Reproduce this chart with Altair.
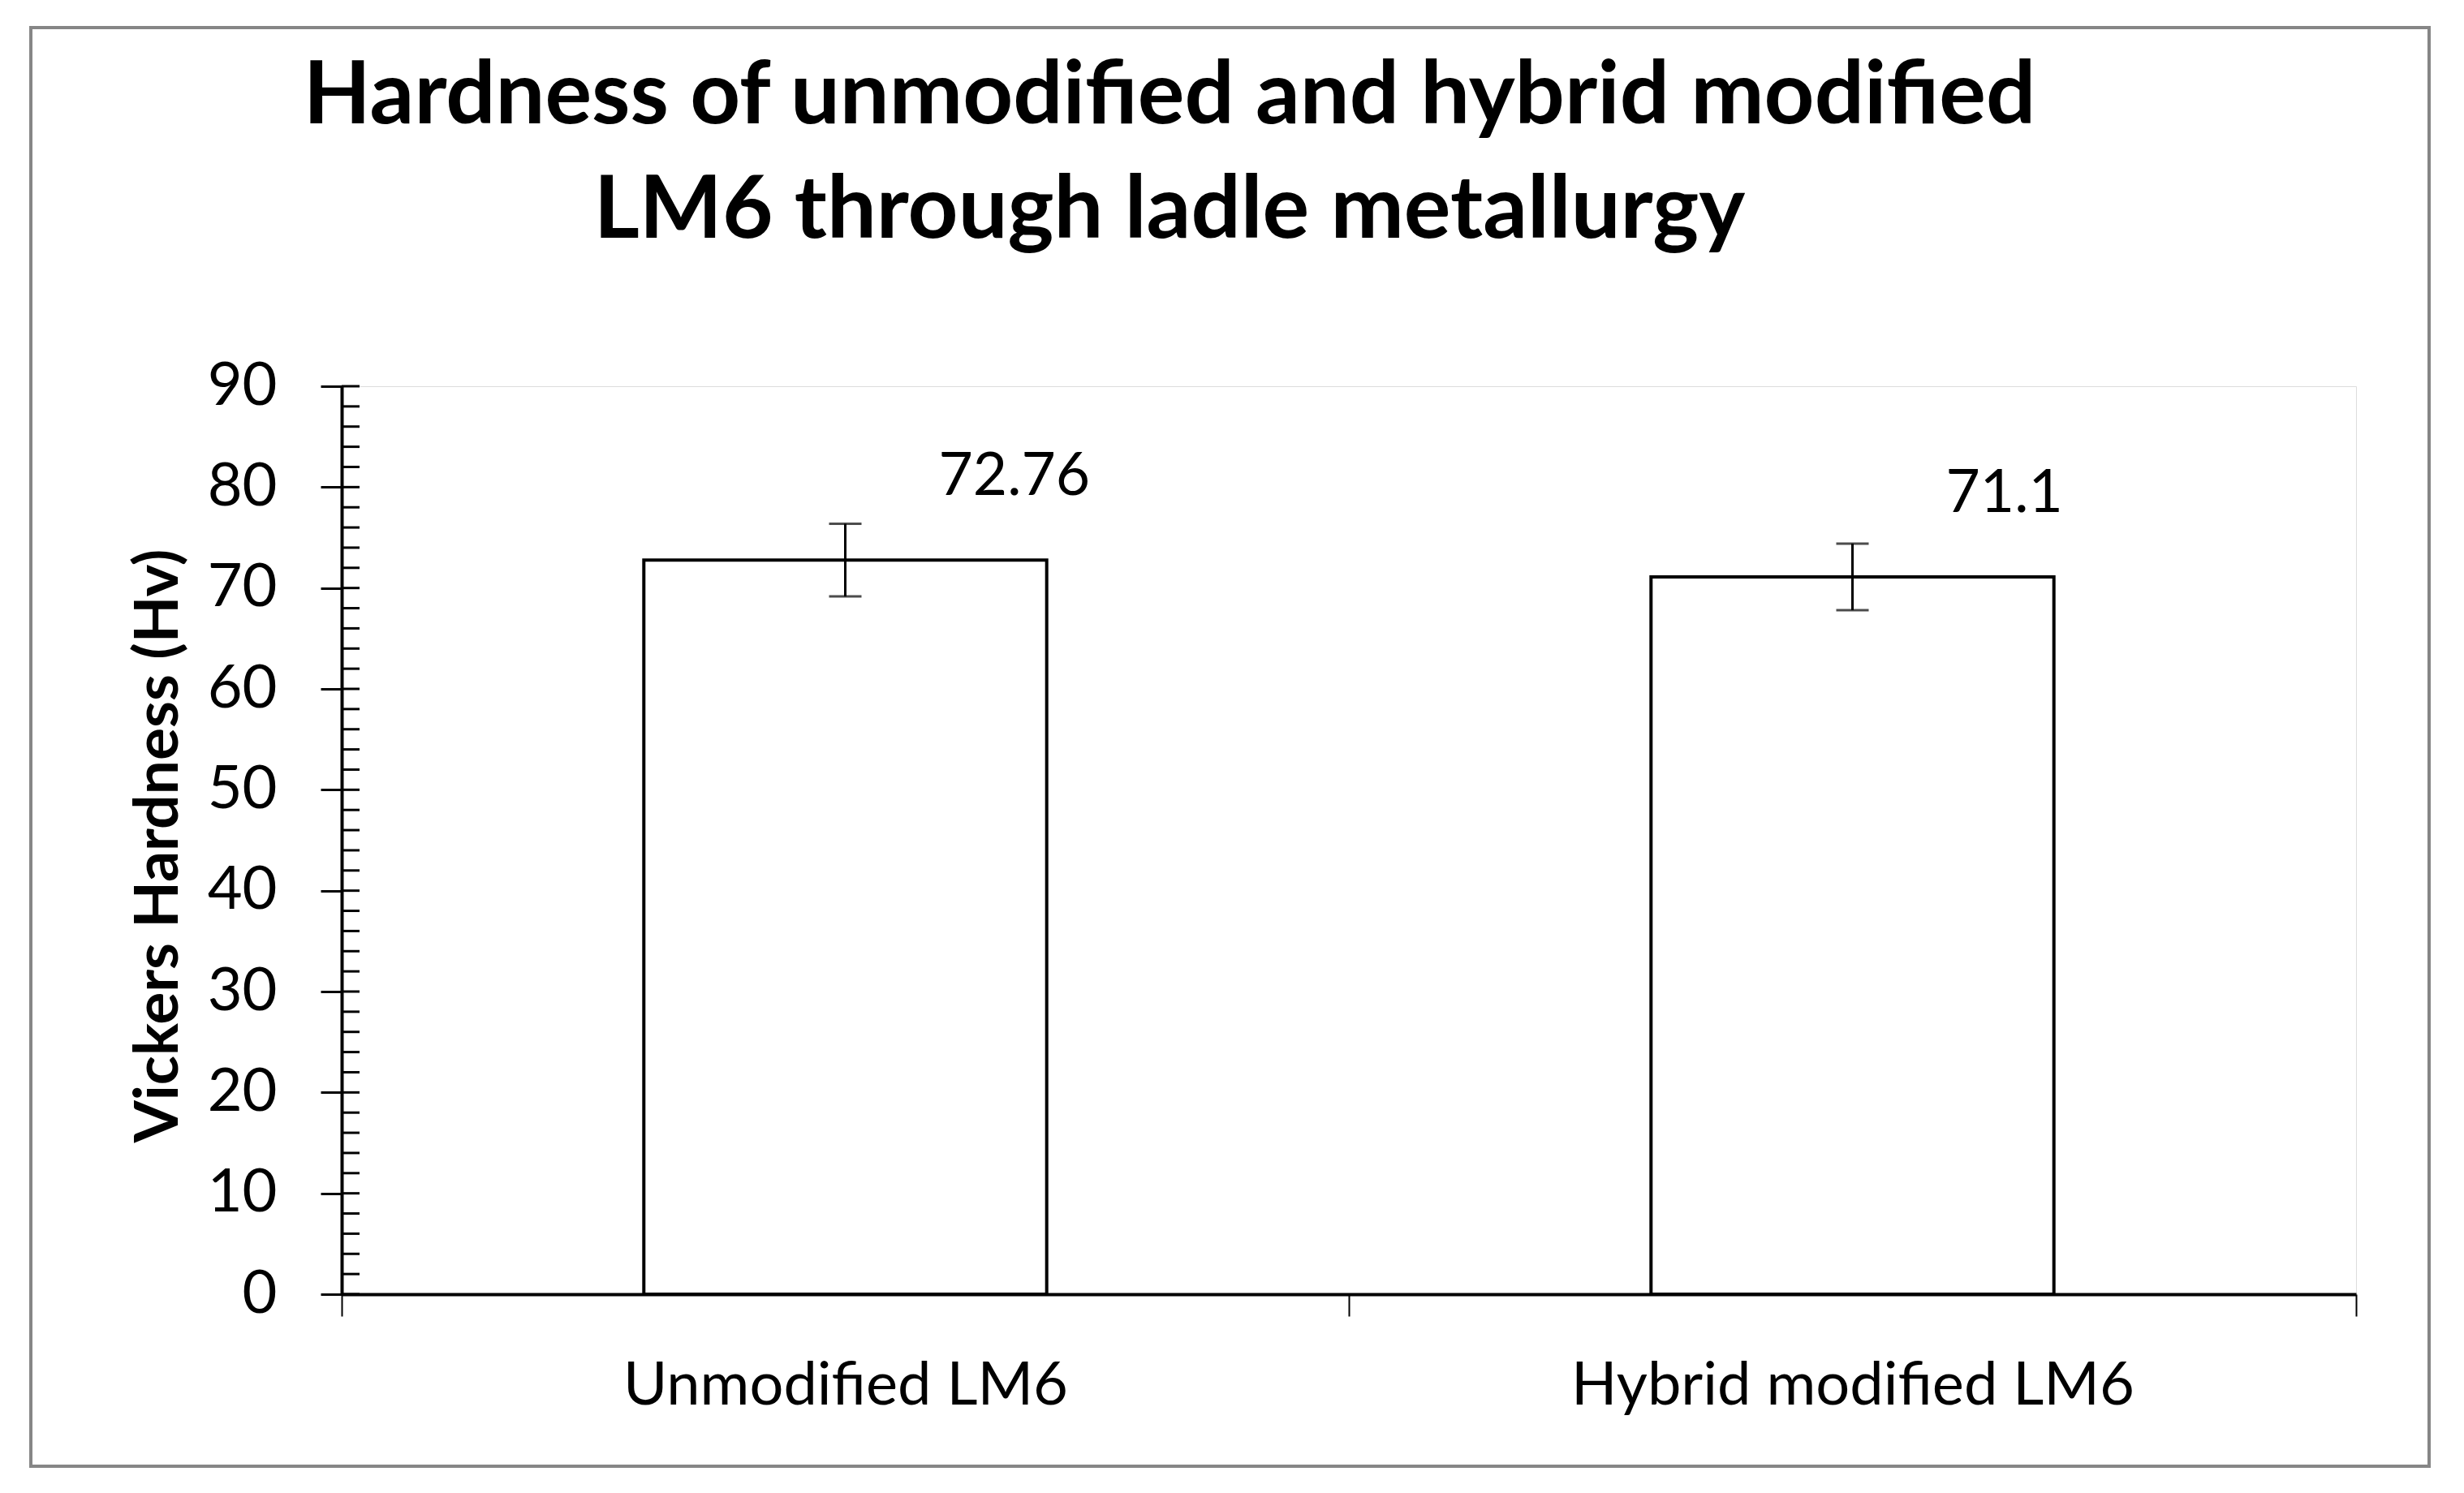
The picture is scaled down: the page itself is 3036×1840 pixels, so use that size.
import altair as alt
import pandas as pd

categories = ["Unmodified LM6", "Hybrid modified LM6"]
values = [72.76, 71.1]
errors = [3.6, 3.3]
labels = ["72.76", "71.1"]
y_ticks = [0, 10, 20, 30, 40, 50, 60, 70, 80, 90]
minor_ticks = list(range(0, 91, 2))
title_lines = ["Hardness of unmodified and hybrid modified", "LM6 through ladle metallurgy"]

df = pd.DataFrame({"cat": categories, "val": values, "err": errors, "lab": labels})
df["lo"] = df["val"] - df["err"]
df["hi"] = df["val"] + df["err"]
minor_df = pd.DataFrame({"t": minor_ticks})

FONT = "Lato"
W, H = 2482, 1119

xenc = alt.X("cat:N", sort=categories,
             scale=alt.Scale(paddingInner=0, paddingOuter=0),
             axis=alt.Axis(title=None, labelAngle=0, tickBand="extent", tickSize=27,
                           tickWidth=2, tickColor="black", domainColor="black",
                           domainWidth=4, labelFontSize=74, labelFont=FONT,
                           labelColor="black", labelBaseline="alphabetic",
                           labelPadding=108, labelLimit=0))
yscale = alt.Scale(domain=[0, 90], nice=False)

base = alt.Chart(df)

bars = base.mark_bar(fill="white", stroke="black", strokeWidth=4,
                     width=alt.RelativeBandSize(0.4)).encode(
    x=xenc,
    y=alt.Y("val:Q", scale=yscale,
            axis=alt.Axis(values=y_ticks, title="Vickers Hardness (Hv)", grid=False,
                          tickSize=26, tickWidth=3, tickColor="black",
                          domainColor="black", domainWidth=4,
                          labelFontSize=74, labelFont=FONT, labelColor="black",
                          labelPadding=54, titleFont=FONT, titleFontSize=75,
                          titleFontWeight="bold", titleColor="black",
                          titleX=-203, titleY=566, titleAngle=-90,
                          titleBaseline="alphabetic", titleLimit=0)),
)

rule = base.mark_rule(color="black", strokeWidth=3).encode(
    x=alt.X("cat:N", sort=categories), y="lo:Q", y2="hi:Q")
cap_lo = base.mark_tick(color="black", size=40, thickness=3, orient="horizontal").encode(
    x=alt.X("cat:N", sort=categories), y="lo:Q")
cap_hi = base.mark_tick(color="black", size=40, thickness=3, orient="horizontal").encode(
    x=alt.X("cat:N", sort=categories), y="hi:Q")

text = base.mark_text(align="left", baseline="alphabetic", dx=115, dy=-80,
                      fontSize=73, font=FONT, color="black").encode(
    x=alt.X("cat:N", sort=categories), y="val:Q", text="lab:N")

minor = alt.Chart(minor_df).mark_rule(color="black", strokeWidth=3).encode(
    y=alt.Y("t:Q", scale=yscale), x=alt.value(0), x2=alt.value(22))

frame = alt.Chart(pd.DataFrame({"a": [0]})).mark_rect(
    filled=False, stroke="#868686", strokeWidth=4).encode(
    x=alt.value(-383), x2=alt.value(2572), y=alt.value(-442), y2=alt.value(1331))

title1 = alt.Chart(pd.DataFrame({"s": [title_lines[0]]})).mark_text(
    align="center", baseline="alphabetic", font=FONT, fontSize=108,
    fontWeight="bold", color="black").encode(
    text="s:N", x=alt.value(1020), y=alt.value(-324))
title2 = alt.Chart(pd.DataFrame({"s": [title_lines[1]]})).mark_text(
    align="center", baseline="alphabetic", font=FONT, fontSize=108,
    fontWeight="bold", color="black").encode(
    text="s:N", x=alt.value(1020), y=alt.value(-183))

chart = alt.layer(frame, bars, rule, cap_lo, cap_hi, text, minor, title1, title2).properties(
    width=W, height=H,
    autosize=alt.AutoSizeParams(type="none"),
    padding={"left": 413, "top": 468, "right": 125, "bottom": 230},
).configure_view(stroke=None).configure(background="white")

chart.save("out.html", embed_options={"renderer": "svg", "actions": False})
